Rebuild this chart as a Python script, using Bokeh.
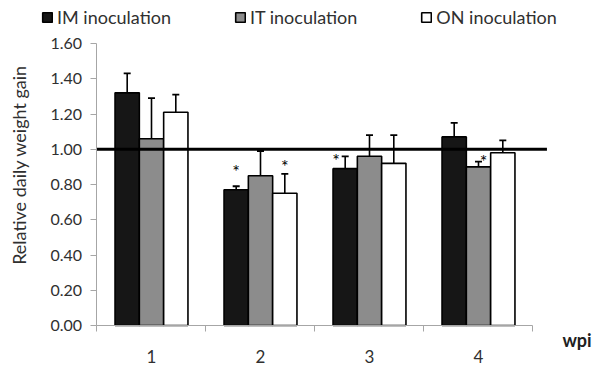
import math
from bokeh.plotting import figure
from bokeh.models import ColumnDataSource, FixedTicker, Legend, LegendItem, Label
from bokeh.embed import file_html
from bokeh.resources import INLINE
from bokeh.core.properties import value

# ---- data ----
weeks = ["1", "2", "3", "4"]
series_names = ["IM inoculation", "IT inoculation", "ON inoculation"]
im_vals = [1.32, 0.77, 0.89, 1.07]
it_vals = [1.06, 0.85, 0.96, 0.90]
on_vals = [1.21, 0.75, 0.92, 0.98]
im_err = [0.11, 0.02, 0.07, 0.08]
it_err = [0.23, 0.14, 0.12, 0.03]
on_err = [0.10, 0.11, 0.16, 0.07]
im_sig = [False, True, True, False]
it_sig = [False, False, False, True]
on_sig = [False, True, False, False]
y_ticks = [0.0, 0.2, 0.4, 0.6, 0.8, 1.0, 1.2, 1.4, 1.6]
y_tick_labels = ["0.00", "0.20", "0.40", "0.60", "0.80", "1.00", "1.20", "1.40", "1.60"]
x_axis_title = "wpi"
y_axis_title = "Relative daily weight gain"
reference_level = 1.0

FONT = "Lato"
TXT = "#303030"
AX = "#a6a6a6"
fills = ["#161616", "#8c8c8c", "#ffffff"]

# frame covers the whole canvas; axes are pinned at fixed data locations
p = figure(width=592, height=366, output_backend="svg", toolbar_location=None,
           x_range=(-0.3853, 5.0459), y_range=(-0.2326, 1.844))
p.min_border = 0
p.outline_line_color = None
p.xgrid.visible = False
p.ygrid.visible = False

bar_w = 0.223
offsets = [-bar_w, 0.0, bar_w]
vals_all = [im_vals, it_vals, on_vals]
errs_all = [im_err, it_err, on_err]
sig_all = [im_sig, it_sig, on_sig]

# star offsets in screen px relative to error-bar top (series, week) -> (dx, dy)
star_off = {(0, 1): (0, -19), (1, 3): (5, -5), (0, 2): (-9, 0), (2, 1): (0, -12)}

renderers = []
for si in range(3):
    xs = [i + 1 + offsets[si] for i in range(len(weeks))]
    vals = vals_all[si]
    errs = errs_all[si]
    src = ColumnDataSource(dict(x=xs, top=vals, up=[v + e for v, e in zip(vals, errs)]))
    r = p.vbar(x="x", top="top", bottom=0, width=bar_w, source=src,
               fill_color=fills[si], line_color="#000000", line_width=1.6)
    renderers.append(r)
    p.segment(x0="x", y0="top", x1="x", y1="up", source=src, line_color="#000000", line_width=1.6)
    p.scatter(x="x", y="up", marker="dash", size=7, source=src, line_color="#000000", line_width=1.8)
    sx, sy, dxs, dys = [], [], [], []
    for wi, s in enumerate(sig_all[si]):
        if s:
            dx, dy = star_off.get((si, wi), (0, -12))
            sx.append(xs[wi]); sy.append(vals[wi] + errs[wi]); dxs.append(dx); dys.append(dy + 4)
    if sx:
        p.text(x=sx, y=sy, text=["*"] * len(sx), x_offset=dxs, y_offset=dys,
               text_align="center", text_baseline="middle", text_font=value(FONT),
               text_font_size="18px", text_color="#000000")

# reference line at 1.00
p.segment(x0=[0.5], y0=[reference_level], x1=[4.628], y1=[reference_level],
          line_color="#000000", line_width=3)

# y axis
p.yaxis.fixed_location = 0.5
p.yaxis.bounds = (y_ticks[0], y_ticks[-1])
p.yaxis.ticker = FixedTicker(ticks=y_ticks)
p.yaxis.major_label_overrides = {t: l for t, l in zip(y_ticks, y_tick_labels)}
p.yaxis.minor_tick_line_color = None
p.yaxis.major_tick_in = 0
p.yaxis.major_tick_out = 6
p.yaxis.major_label_standoff = 9
p.yaxis.axis_line_color = AX
p.yaxis.major_tick_line_color = AX
p.yaxis.major_label_text_font = FONT
p.yaxis.major_label_text_font_size = "16px"
p.yaxis.major_label_text_color = TXT

# x axis
p.xaxis.fixed_location = 0
p.xaxis.ticker = FixedTicker(ticks=[1, 2, 3, 4], minor_ticks=[0.5, 1.5, 2.5, 3.5, 4.5])
p.xaxis.major_label_overrides = {i + 1: w for i, w in enumerate(weeks)}
p.xaxis.bounds = (0.5, 4.5)
p.xaxis.major_tick_in = 0
p.xaxis.major_tick_out = 0
p.xaxis.minor_tick_in = 0
p.xaxis.minor_tick_out = 6
p.xaxis.minor_tick_line_color = AX
p.xaxis.axis_line_color = AX
p.xaxis.major_label_standoff = 18
p.xaxis.major_label_text_font = FONT
p.xaxis.major_label_text_font_size = "17px"
p.xaxis.major_label_text_color = TXT

p.add_layout(Label(x=-0.22, y=0.911, text=y_axis_title, angle=math.pi / 2,
                   text_align="center", text_baseline="middle",
                   text_font=FONT, text_font_size="18px", text_color=TXT))
p.add_layout(Label(x=4.904, y=-0.082, text=x_axis_title, text_align="center", text_baseline="middle",
                   text_font=FONT, text_font_size="18px", text_font_style="bold", text_color="#202020"))

legend = Legend(items=[LegendItem(label=n, renderers=[r]) for n, r in zip(series_names, renderers)],
                orientation="horizontal", location=(41, 338))
legend.glyph_width = 12
legend.glyph_height = 12
legend.label_standoff = 4
legend.spacing = 63
legend.padding = 0
legend.margin = 0
legend.border_line_color = None
legend.background_fill_alpha = 0
legend.label_text_font = FONT
legend.label_text_font_size = "18px"
legend.label_text_color = TXT
p.add_layout(legend, "center")

open("out.html", "w").write(file_html(p, INLINE))
